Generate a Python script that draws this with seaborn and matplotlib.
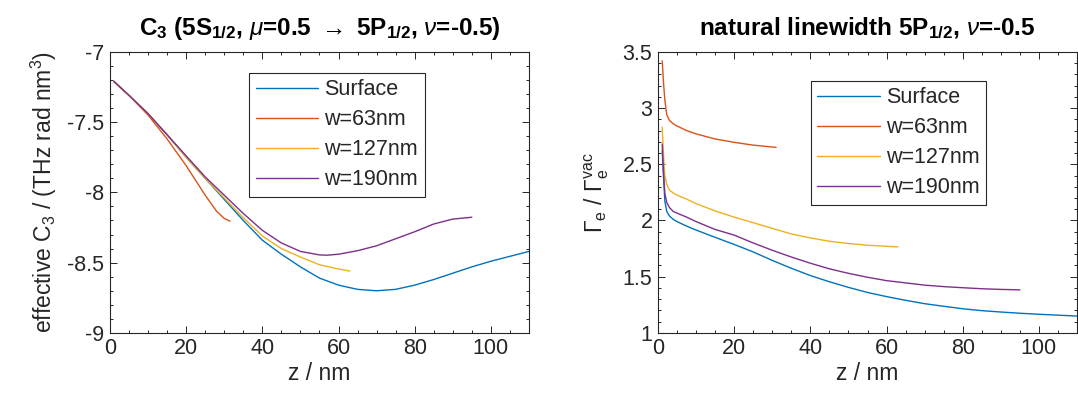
import numpy as np
import pandas as pd
import matplotlib
matplotlib.use("Agg")
import matplotlib.pyplot as plt
from matplotlib.ticker import MultipleLocator, FuncFormatter
import seaborn as sns

# ---------------- data ----------------
series_names = ["Surface", "w=63nm", "w=127nm", "w=190nm"]
colors = ["#0072BD", "#D95319", "#EDB120", "#7E2F8E"]

# left panel: effective C3 (THz rad nm^3) vs z (nm)
c3_surface_z = [1, 5, 10, 15, 20, 25, 30, 35, 40, 45, 50, 55, 60, 65, 70, 75, 80, 85, 90, 95, 100, 105, 110]
c3_surface_v = [-7.21, -7.31, -7.44, -7.59, -7.75, -7.90, -8.05, -8.20, -8.34, -8.44, -8.53, -8.61, -8.66,
                -8.69, -8.70, -8.69, -8.66, -8.62, -8.575, -8.53, -8.49, -8.455, -8.42]
c3_w63_z = [1, 5, 10, 15, 20, 25, 28, 30, 31.5]
c3_w63_v = [-7.21, -7.31, -7.45, -7.62, -7.81, -8.02, -8.135, -8.185, -8.205]
c3_w127_z = [1, 5, 10, 15, 20, 25, 30, 35, 40, 45, 50, 55, 60, 63]
c3_w127_v = [-7.21, -7.31, -7.44, -7.59, -7.75, -7.90, -8.04, -8.18, -8.31, -8.40, -8.46, -8.515, -8.545, -8.56]
c3_w190_z = [1, 5, 10, 15, 20, 25, 30, 35, 40, 45, 50, 55, 57, 60, 65, 70, 75, 80, 85, 90, 95]
c3_w190_v = [-7.21, -7.31, -7.44, -7.59, -7.74, -7.89, -8.02, -8.15, -8.27, -8.36, -8.42, -8.445, -8.447,
             -8.44, -8.415, -8.38, -8.33, -8.28, -8.225, -8.19, -8.177]

# right panel: Gamma_e / Gamma_e^vac vs z (nm)
g_surface_z = [1.1, 1.5, 1.8, 2.3, 3, 4, 5, 7.5, 10, 15, 20, 25, 30, 35, 40, 45, 50, 55, 60, 65, 70, 75, 80,
               85, 90, 95, 100, 105, 110]
g_surface_v = [2.62, 2.35, 2.17, 2.08, 2.04, 2.01, 1.99, 1.95, 1.915, 1.85, 1.787, 1.72, 1.645, 1.575, 1.51,
               1.455, 1.405, 1.36, 1.323, 1.29, 1.26, 1.237, 1.215, 1.198, 1.186, 1.175, 1.166, 1.158, 1.15]
g_w63_z = [1.1, 1.5, 1.8, 2.3, 3, 4, 5, 7.5, 10, 15, 20, 25, 31]
g_w63_v = [3.42, 3.20, 3.07, 2.94, 2.89, 2.86, 2.84, 2.80, 2.77, 2.725, 2.695, 2.67, 2.65]
g_w127_z = [1.1, 1.5, 1.8, 2.3, 3, 4, 5, 7.5, 10, 15, 20, 25, 30, 35, 40, 45, 50, 55, 60, 63]
g_w127_v = [2.83, 2.55, 2.40, 2.32, 2.27, 2.245, 2.225, 2.19, 2.15, 2.085, 2.03, 1.98, 1.93, 1.88, 1.845,
            1.815, 1.795, 1.78, 1.77, 1.765]
g_w190_z = [1.1, 1.5, 1.8, 2.3, 3, 4, 5, 7.5, 10, 15, 20, 25, 30, 35, 40, 45, 50, 55, 60, 65, 70, 75, 80,
            85, 90, 95]
g_w190_v = [2.68, 2.40, 2.24, 2.16, 2.115, 2.08, 2.065, 2.03, 1.99, 1.92, 1.87, 1.80, 1.735, 1.675, 1.62,
            1.57, 1.53, 1.495, 1.465, 1.445, 1.425, 1.412, 1.402, 1.393, 1.387, 1.383]

x_ticks = [0, 20, 40, 60, 80, 100]
left_yticks = [-9, -8.5, -8, -7.5, -7]
right_yticks = [1, 1.5, 2, 2.5, 3, 3.5]


def long_frame(zs, vs):
    rows = []
    for name, z, v in zip(series_names, zs, vs):
        for zi, vi in zip(z, v):
            rows.append((name, zi, vi))
    return pd.DataFrame(rows, columns=["series", "z", "val"])


df_left = long_frame([c3_surface_z, c3_w63_z, c3_w127_z, c3_w190_z],
                     [c3_surface_v, c3_w63_v, c3_w127_v, c3_w190_v])
df_right = long_frame([g_surface_z, g_w63_z, g_w127_z, g_w190_z],
                      [g_surface_v, g_w63_v, g_w127_v, g_w190_v])

# ---------------- style ----------------
sns.set_theme(style="white")
plt.rcParams.update({
    "font.family": ["Liberation Sans", "DejaVu Sans"],
    "mathtext.fontset": "custom",
    "mathtext.rm": "Liberation Sans",
    "mathtext.it": "Liberation Sans:italic",
    "mathtext.bf": "Liberation Sans:bold",
    "axes.unicode_minus": False,
    "axes.edgecolor": "#262626",
    "axes.linewidth": 0.8,
})

TICK_FS = 15.5
LABEL_FS = 16.5
TITLE_FS = 17.5
TXT = "#262626"

fig = plt.figure(figsize=(10.78, 4.08), dpi=100)
ax1 = fig.add_axes([0.102, 0.184, 0.3887, 0.689])
ax2 = fig.add_axes([0.6104, 0.184, 0.3887, 0.689])

palette = dict(zip(series_names, colors))

for ax, df in ((ax1, df_left), (ax2, df_right)):
    sns.lineplot(data=df, x="z", y="val", hue="series", hue_order=series_names, palette=palette,
                 estimator=None, sort=False, linewidth=1.0, legend=False, ax=ax)

fmt = FuncFormatter(lambda v, p: f"{v:g}")

for ax, yt in ((ax1, left_yticks), (ax2, right_yticks)):
    ax.set_xlim(0, 110)
    ax.set_ylim(yt[0], yt[-1])
    ax.set_xticks(x_ticks)
    ax.set_yticks(yt)
    ax.xaxis.set_major_formatter(fmt)
    ax.yaxis.set_major_formatter(fmt)
    ax.xaxis.set_minor_locator(MultipleLocator(5))
    ax.yaxis.set_minor_locator(MultipleLocator(0.1))
    ax.tick_params(which="both", direction="in", top=True, right=True, bottom=True, left=True,
                   colors=TXT, labelsize=TICK_FS, width=0.7)
    ax.tick_params(which="major", length=5, pad=4)
    ax.tick_params(which="minor", length=2.5)
    ax.set_xlabel("z / nm", fontsize=LABEL_FS, color=TXT, labelpad=2)
    for s in ax.spines.values():
        s.set_visible(True)
        s.set_color(TXT)

ax1.set_ylabel(r"effective C$_3$ / (THz rad nm$^3$)", fontsize=LABEL_FS, color=TXT, labelpad=6)
ax2.set_ylabel(r"$\Gamma_\mathrm{e}$ / $\Gamma_\mathrm{e}^\mathrm{vac}$", fontsize=LABEL_FS, color=TXT, labelpad=8)

ax1.set_title(r"C$_\mathbf{3}$ (5S$_\mathbf{1/2}$, $\mu$=0.5 $\rightarrow$ 5P$_\mathbf{1/2}$, $\nu$=-0.5)",
              fontsize=TITLE_FS, fontweight="bold", color="black", pad=12)
ax2.set_title(r"natural linewidth 5P$_\mathbf{1/2}$, $\nu$=-0.5",
              fontsize=TITLE_FS, fontweight="bold", color="black", pad=12)

for ax, anchor in ((ax1, (0.332, 0.925)), (ax2, (0.365, 0.897))):
    handles = ax.get_lines()[:4]
    leg = ax.legend(handles, series_names, loc="upper left", bbox_to_anchor=anchor, borderaxespad=0,
                    fontsize=TICK_FS, frameon=True, fancybox=False, framealpha=1, edgecolor=TXT,
                    handlelength=2.9, handletextpad=0.3, labelspacing=0.42, borderpad=0.3)
    leg.get_frame().set_linewidth(0.8)

fig.savefig("out.png", dpi=100)
